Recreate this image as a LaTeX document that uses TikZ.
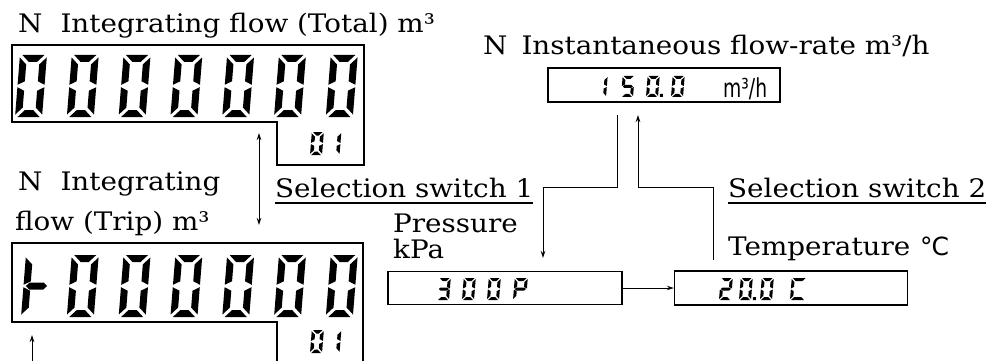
\documentclass[tikz,border=0pt]{standalone}
\usepackage{fontspec}
\setmainfont{DejaVu Serif}[FakeStretch=1.09]
\setsansfont{DejaVu Sans}
\usetikzlibrary{arrows.meta}

% seven-segment pieces (local: top v=-H, bottom v=0)
\newcommand\lcdsega{\fill ({\dG},{-\dH}) -- ({\dW-\dG},{-\dH}) -- ({\dW-\dG-\dT},{-\dH+\dT}) -- ({\dG+\dT},{-\dH+\dT}) -- cycle;}
\newcommand\lcdsegd{\fill ({\dG},0) -- ({\dW-\dG},0) -- ({\dW-\dG-\dT},{-\dT}) -- ({\dG+\dT},{-\dT}) -- cycle;}
\newcommand\lcdsegf{\fill (0,{-\dH+\dG}) -- ({\dT},{-\dH+\dG+\dT}) -- ({\dT},{-\dH/2-\dG/2-\dT/2}) -- (0,{-\dH/2-\dG/2}) -- cycle;}
\newcommand\lcdsege{\fill (0,{-\dG}) -- ({\dT},{-\dG-\dT}) -- ({\dT},{-\dH/2+\dG/2+\dT/2}) -- (0,{-\dH/2+\dG/2}) -- cycle;}
\newcommand\lcdsegb{\fill ({\dW},{-\dH+\dG}) -- ({\dW-\dT},{-\dH+\dG+\dT}) -- ({\dW-\dT},{-\dH/2-\dG/2-\dT/2}) -- ({\dW},{-\dH/2-\dG/2}) -- cycle;}
\newcommand\lcdsegc{\fill ({\dW},{-\dG}) -- ({\dW-\dT},{-\dG-\dT}) -- ({\dW-\dT},{-\dH/2+\dG/2+\dT/2}) -- ({\dW},{-\dH/2+\dG/2}) -- cycle;}
\newcommand\lcdsegg{\fill ({\dG},{-\dH/2}) -- ({\dG+\dT/2},{-\dH/2-\dT/2}) -- ({\dW-\dG-\dT/2},{-\dH/2-\dT/2}) -- ({\dW-\dG},{-\dH/2}) -- ({\dW-\dG-\dT/2},{-\dH/2+\dT/2}) -- ({\dG+\dT/2},{-\dH/2+\dT/2}) -- cycle;}
\newcommand\lcdsegp{\fill ({\dW+0.6*\dT},0) rectangle ({\dW+1.6*\dT},{-\dT});}
% X, Y (bottom-left), W, H, T, segments
\newcommand\lcd[6]{%
  \begin{scope}[shift={(#1,#2)}, xslant=0.08]
    \def\dW{#3}\def\dH{#4}\def\dT{#5}\pgfmathsetmacro\dG{0.35*#5}
    \foreach \s in {#6}{\csname lcdseg\s\endcsname}
  \end{scope}}

\begin{document}
\begin{tikzpicture}[x=1pt,y=-1pt,
  lbl/.style={anchor=base west, inner sep=0, font=\fontsize{25.5}{30}\selectfont},
  unitlbl/.style={anchor=base west, inner sep=0, font=\fontsize{25}{30}\selectfont\sffamily},
  lcdbox/.style={draw, line width=1.4pt, inner sep=0, rectangle},
  conn/.style={line width=0.9pt},
  tip/.style={-{Stealth[length=7pt,width=4.5pt]}},
  dtip/.style={{Stealth[length=7pt,width=4.5pt]}-{Stealth[length=7pt,width=4.5pt]}},
]
\useasboundingbox (0,0) rectangle (994,361);

% ---- labels
\node[lbl] (lbltot) at (18,33) {N\hspace{18pt}Integrating flow (Total) m³};
\node[lbl] (lblinst) at (483,55) {N\hspace{14pt}Instantaneous flow-rate m³/h};
\node[lbl] (lbltrip1) at (18,190) {N\hspace{18pt}Integrating};
\node[lbl] (lbltrip2) at (15,230) {flow (Trip) m³};
\node[lbl] (sel1) at (275,197) {Selection switch 1};
\node[lbl] (sel2) at (728,197) {Selection switch 2};
\draw[line width=1.5pt] ([yshift=-6pt]sel1.base west) -- ([yshift=-6pt]sel1.base east);
\draw[line width=1.5pt] ([yshift=-6pt]sel2.base west) -- ([yshift=-6pt]sel2.base east);
\node[lbl] (lblp1) at (393,232) {Pressure};
\node[lbl] (lblp2) at (393,258) {kPa};
\node[lbl] (lblt) at (728,255) {Temperature};
\node[unitlbl] (lblc) at (920,255) {°\kern-1pt C};

% ---- total display
\draw[line width=1.8pt] (12,45) -- (364,45) -- (364,165) -- (277,165) -- (277,122) -- (12,122) -- cycle;
\foreach \k in {0,...,6} {\lcd{15+\k*51.8}{117}{27}{62}{7}{a,b,c,d,e,f}}
\lcd{310}{155}{12}{23}{3.5}{a,b,c,d,e,f}
\lcd{327.5}{155}{12}{23}{3.5}{b,c}

% ---- trip display
\draw[line width=1.6pt] (277,361) -- (277,322) -- (12,322) -- (12,243) -- (363,243) -- (363,361);
\lcd{21}{317}{26}{62}{7}{f,e,g}
\foreach \k in {1,...,6} {\lcd{15+\k*51.8}{317}{27}{62}{7}{a,b,c,d,e,f}}
\lcd{310}{353}{12}{23}{3.5}{a,b,c,d,e,f}
\lcd{327.5}{353}{12}{23}{3.5}{b,c}

% ---- small displays
\node[lcdbox, minimum width=232pt, minimum height=34pt] (inst) at (664,85) {};
\node[lcdbox, minimum width=234pt, minimum height=33pt] (pres) at (505,288) {};
\node[lcdbox, minimum width=233pt, minimum height=34pt] (temp) at (791,288) {};

\lcd{594}{97}{12}{21}{3}{b,c}
\lcd{621}{97}{12}{21}{3}{a,f,g,c,d}
\lcd{646}{97}{12}{21}{3}{a,b,c,d,e,f,p}
\lcd{671}{97}{12}{21}{3}{a,b,c,d,e,f}
\node[anchor=base west, inner sep=0] (instunit) at (723,97) {\scalebox{0.72}[1]{\fontsize{26}{30}\selectfont\sffamily m³/h}};

\lcd{437}{300}{12}{22}{3}{a,b,g,c,d}
\lcd{462}{300}{12}{22}{3}{a,b,c,d,e,f}
\lcd{487}{300}{12}{22}{3}{a,b,c,d,e,f}
\lcd{513}{300}{13}{22}{3}{a,b,f,g,e}

\lcd{719}{300}{12}{22}{3}{a,b,g,e,d}
\lcd{739}{300}{12}{22}{3}{a,b,c,d,e,f,p}
\lcd{760}{300}{12}{22}{3}{a,b,c,d,e,f}
\lcd{790}{300}{15}{22}{3}{a,f,e,d}

% ---- connectors
\coordinate (sw1top) at (259,133);
\coordinate (sw1bot) at (259,225);
\draw[conn,dtip] (sw1top) -- (sw1bot);

\coordinate (trA) at (32,361);
\coordinate (trB) at (32,335);
\draw[conn,tip] (trA) -- (trB);

\coordinate (s1a) at (617,115);
\coordinate (s1b) at (543,258);
\draw[conn,tip] (s1a) -- ++(0,72) -| (s1b);

\coordinate (s2a) at (713,260);
\coordinate (s2b) at (638,115);
\draw[conn,tip] (s2a) -- ++(0,-73) -| (s2b);

\draw[conn,tip] (pres.east) -- (temp.west);
\end{tikzpicture}
\end{document}
